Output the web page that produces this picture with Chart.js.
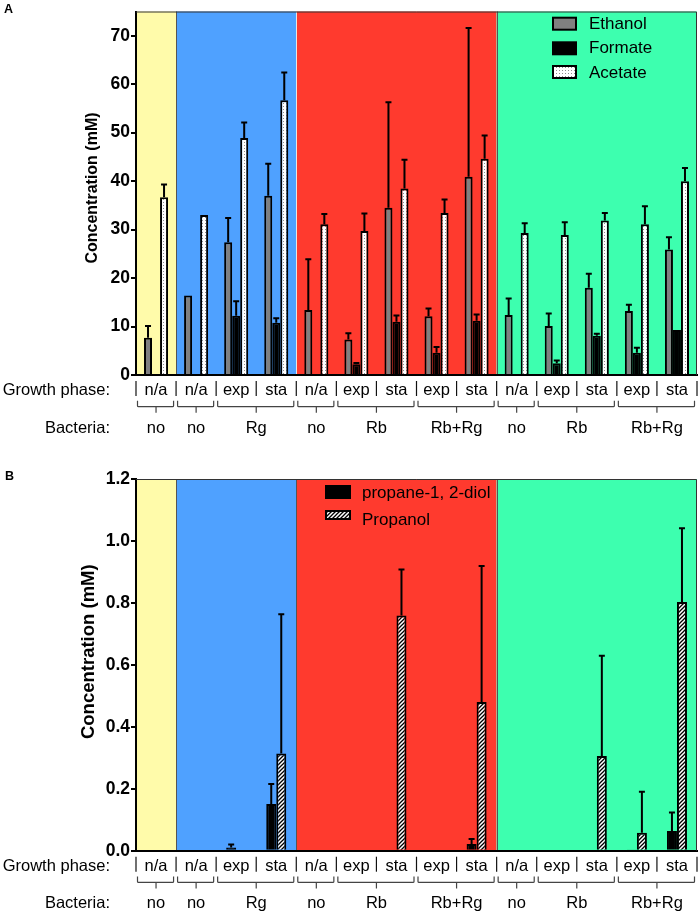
<!DOCTYPE html>
<html><head><meta charset="utf-8">
<script src="https://cdn.jsdelivr.net/npm/chart.js@4.4.1/dist/chart.umd.min.js"></script>
<style>
html,body{margin:0;padding:0;background:#fff;}
#wrap{position:relative;width:700px;height:914px;overflow:hidden;background:#fff;}
canvas{position:absolute;left:0;}
#cA{top:0;}
#cB{top:455px;}
</style></head><body>
<div id="wrap"><canvas id="cA" width="700" height="455"></canvas><canvas id="cB" width="700" height="459"></canvas></div>
<script>
// ---------- data ----------
const growthPhase = ['n/a','n/a','exp','sta','n/a','exp','sta','exp','sta','n/a','exp','sta','exp','sta'];
const bacteriaLabels = ['no','no','Rg','no','Rb','Rb+Rg','no','Rb','Rb+Rg'];
const bacteriaSpans = [1,1,2,1,2,2,1,2,2];
const mediumSpans = [1,3,5,5];

const ethanol    = [7.7,16.4,27.4,37.0,13.4,7.3,34.5,12.1,40.9,12.4,10.1,18.0,13.2,25.9];
const ethanolSD  = [2.4,0,5.0,6.6,10.5,1.3,21.8,1.6,30.7,3.4,2.6,2.9,1.3,2.5];
const formate    = [0,0,12.2,10.8,0,2.2,11.0,4.6,11.2,0,2.4,8.1,4.6,9.3];
const formateSD  = [0,0,3.0,0.9,0,0.3,1.3,1.2,1.3,0,0.6,0.4,1.0,0];
const acetate    = [36.7,33.0,48.9,56.7,31.1,29.7,38.5,33.4,44.6,29.3,28.9,31.9,31.1,40.0];
const acetateSD  = [2.6,0,3.2,5.7,2.1,3.6,5.9,2.8,4.8,2.0,2.6,1.5,3.7,2.7];

const propanediol   = [0,0,0.010,0.151,0,0,0,0.003,0.022,0,0,0,0.004,0.064];
const propanediolSD = [0,0,0.010,0.064,0,0,0,0,0.016,0,0,0,0,0.059];
const propanol      = [0,0,0,0.314,0,0,0.759,0,0.480,0,0,0.306,0.058,0.803];
const propanolSD    = [0,0,0,0.449,0,0,0.149,0,0.439,0,0,0.323,0.132,0.238];

const ticksA = [0,10,20,30,40,50,60,70];
const ticksB = [0,0.2,0.4,0.6,0.8,1.0,1.2];

// ---------- styles ----------
const FONT = '"Liberation Sans", Arial, Helvetica, sans-serif';
Chart.defaults.font.family = FONT;
Chart.defaults.color = '#000';
const bandColors = ['#FFFBAA','#4FA1FF','#FF3A2E','#3DFFAF'];

function dotPattern(){
  const c=document.createElement('canvas'); c.width=3; c.height=3;
  const g=c.getContext('2d'); g.fillStyle='#fff'; g.fillRect(0,0,3,3);
  g.fillStyle='#8c8c8c'; g.fillRect(1,1,1,1);
  return g.createPattern(c,'repeat');
}
function hatchPattern(){
  const c=document.createElement('canvas'); c.width=4; c.height=4;
  const g=c.getContext('2d'); g.fillStyle='#fff'; g.fillRect(0,0,4,4);
  g.strokeStyle='#000'; g.lineWidth=1.3; g.beginPath();
  g.moveTo(0,4); g.lineTo(4,0); g.moveTo(-1,1); g.lineTo(1,-1); g.moveTo(3,5); g.lineTo(5,3); g.stroke();
  return g.createPattern(c,'repeat');
}

const decorPlugin = {
  id:'decor',
  beforeDraw(chart, args, o){
    const ctx=chart.ctx, a=chart.chartArea, x=chart.scales.x;
    let k=0;
    ctx.save();
    mediumSpans.forEach((s,bi)=>{
      const x0=x.getPixelForValue(k-0.5), x1=x.getPixelForValue(k+s-0.5);
      ctx.fillStyle=bandColors[bi];
      ctx.fillRect(x0,a.top,x1-x0,a.bottom-a.top);
      k+=s;
    });
    k=0;
    mediumSpans.forEach((s,bi)=>{
      k+=s;
      if(bi<mediumSpans.length-1){
        const xb=Math.round(x.getPixelForValue(k-0.5))+0.5;
        ctx.strokeStyle=o.edgeColors[bi]; ctx.lineWidth=1;
        ctx.beginPath(); ctx.moveTo(xb,a.top); ctx.lineTo(xb,a.bottom); ctx.stroke();
      }
    });
    ctx.restore();
  },
  afterDatasetsDraw(chart){
    const ctx=chart.ctx, y=chart.scales.y;
    ctx.save();
    ctx.strokeStyle='#000'; ctx.lineWidth=2;
    chart.data.datasets.forEach((ds,di)=>{
      const meta=chart.getDatasetMeta(di);
      ds.errors.forEach((e,i)=>{
        if(!(e>0)) return;
        const v=ds.data[i], px=meta.data[i].x;
        const y0=y.getPixelForValue(v), y1=y.getPixelForValue(v+e);
        ctx.beginPath(); ctx.moveTo(px,y0); ctx.lineTo(px,y1);
        ctx.moveTo(px-3,y1); ctx.lineTo(px+3,y1); ctx.stroke();
      });
    });
    ctx.restore();
  },
  afterDraw(chart, args, o){
    const ctx=chart.ctx, a=chart.chartArea, x=chart.scales.x;
    ctx.save();
    // frame top / right
    ctx.strokeStyle='#333'; ctx.lineWidth=1;
    ctx.beginPath(); ctx.moveTo(a.left, a.top+0.5); ctx.lineTo(a.right-0.5,a.top+0.5); ctx.lineTo(a.right-0.5,a.bottom); ctx.stroke();
    // y title
    ctx.save();
    ctx.translate(o.title.cx, o.title.cy); ctx.rotate(-Math.PI/2);
    ctx.font='bold '+o.title.size+'px '+FONT; ctx.fillStyle='#000';
    ctx.textAlign='center'; ctx.textBaseline='middle';
    ctx.fillText('Concentration (mM)',0,0);
    ctx.restore();
    // panel letter
    ctx.font='bold 12.5px '+FONT; ctx.fillStyle='#000'; ctx.textAlign='left'; ctx.textBaseline='alphabetic';
    ctx.fillText(o.letter.text,o.letter.x,o.letter.y);
    // legend
    const L=o.legend;
    chart.data.datasets.forEach((ds,i)=>{
      ctx.fillStyle=ds.backgroundColor;
      ctx.fillRect(L.boxX,L.boxTop[i],L.boxW,L.boxH[i]);
      ctx.strokeStyle='#000'; ctx.lineWidth=2;
      ctx.strokeRect(L.boxX,L.boxTop[i],L.boxW,L.boxH[i]);
      ctx.fillStyle='#000'; ctx.font=L.fontSize+'px '+FONT;
      ctx.textAlign='left'; ctx.textBaseline='alphabetic';
      ctx.fillText(ds.label,L.textX,L.baselines[i]);
    });
    // bottom labels
    const b=a.bottom;
    ctx.fillStyle='#000'; ctx.font='16.5px '+FONT; ctx.textBaseline='alphabetic';
    ctx.textAlign='right';
    ctx.fillText('Growth phase:',110,b+20);
    ctx.fillText('Bacteria:',110,b+57.5);
    ctx.textAlign='center';
    growthPhase.forEach((g,i)=>{ ctx.fillText(g, x.getPixelForValue(i), b+20); });
    ctx.strokeStyle='#111'; ctx.lineWidth=1.2;
    for(let i=0;i<=growthPhase.length;i++){
      const xb=x.getPixelForValue(i-0.5);
      ctx.beginPath(); ctx.moveTo(xb,b+6); ctx.lineTo(xb,b+21); ctx.stroke();
    }
    let k=0;
    ctx.strokeStyle='#444'; ctx.lineWidth=1.2;
    bacteriaSpans.forEach((s,gi)=>{
      const x0=x.getPixelForValue(k-0.5)+1.5, x1=x.getPixelForValue(k+s-0.5)-2.5;
      const xc=(x.getPixelForValue(k-0.5)+x.getPixelForValue(k+s-0.5))/2;
      const yl=b+31.7;
      ctx.beginPath();
      ctx.moveTo(x0,yl-6); ctx.lineTo(x0,yl-1); ctx.quadraticCurveTo(x0,yl,x0+1,yl);
      ctx.lineTo(x1-1,yl); ctx.quadraticCurveTo(x1,yl,x1,yl-1); ctx.lineTo(x1,yl-6);
      ctx.moveTo(xc,yl); ctx.lineTo(xc,yl+6);
      ctx.stroke();
      ctx.fillText(bacteriaLabels[gi], xc, b+57.5);
      k+=s;
    });
    ctx.restore();
  }
};

function build(p){
  return new Chart(document.getElementById(p.canvas),{
    type:'bar',
    data:{labels:growthPhase, datasets:p.datasets},
    options:{
      responsive:false, animation:false, devicePixelRatio:1,
      layout:{padding:{top:p.padTop,right:3,left:0,bottom:0}},
      plugins:{legend:{display:false}, tooltip:{enabled:false}, decor:p.decor},
      scales:{
        x:{z:1, grid:{display:false}, border:{display:true,color:'#000',width:2},
           ticks:{display:false}, afterFit(s){s.height=p.xHeight;}},
        y:{z:1, min:0, max:p.max,
           afterBuildTicks(s){s.ticks=p.ticks.map(v=>({value:v}));},
           grid:{drawOnChartArea:false, drawTicks:true, tickLength:5, tickColor:'#000', tickWidth:2, color:'#000', lineWidth:2},
           border:{display:true,color:'#000',width:2},
           ticks:{font:{size:p.tickSize,weight:'bold'}, color:'#000', padding:1, callback:p.fmt},
           title:{display:false},
           afterFit(s){s.width=136;}}
      }
    },
    plugins:[decorPlugin]
  });
}

const dots=dotPattern(), hatch=hatchPattern();

build({
  canvas:'cA', max:75, ticks:ticksA, fmt:v=>String(v), tickSize:17.5, padTop:3, xHeight:80,
  datasets:[
    {label:'Ethanol', data:ethanol, errors:ethanolSD, backgroundColor:'#808080', borderColor:'#000', borderWidth:2, barPercentage:1, categoryPercentage:0.6},
    {label:'Formate', data:formate, errors:formateSD, backgroundColor:'#000', borderColor:'#000', borderWidth:2, barPercentage:1, categoryPercentage:0.6},
    {label:'Acetate', data:acetate, errors:acetateSD, backgroundColor:dots, borderColor:'#000', borderWidth:2, barPercentage:1, categoryPercentage:0.6}
  ],
  decor:{
    edgeColors:['#555','#e6e6e6','#555'],
    title:{size:16, cx:93, cy:188},
    letter:{text:'A', x:4, y:13},
    legend:{boxX:553, boxW:23, textX:589, boxTop:[17.7,42.3,66], boxH:[12,12,12], baselines:[29.3,53.4,77.7], fontSize:17}
  }
});

build({
  canvas:'cB', max:1.2, ticks:ticksB, fmt:v=>Number(v).toFixed(1), tickSize:17.5, padTop:24, xHeight:63.3,
  datasets:[
    {label:'propane-1, 2-diol', data:propanediol, errors:propanediolSD, backgroundColor:'#000', borderColor:'#000', borderWidth:2, barPercentage:1, categoryPercentage:0.5},
    {label:'Propanol', data:propanol, errors:propanolSD, backgroundColor:hatch, borderColor:'#000', borderWidth:2, barPercentage:1, categoryPercentage:0.5}
  ],
  decor:{
    edgeColors:['#555','#555','#555'],
    title:{size:18.5, cx:89, cy:196.7},
    letter:{text:'B', x:5, y:25},
    legend:{boxX:326, boxW:24, textX:362, boxTop:[31,56], boxH:[12,8], baselines:[42.5,70], fontSize:17}
  }
});
</script>
</body></html>
